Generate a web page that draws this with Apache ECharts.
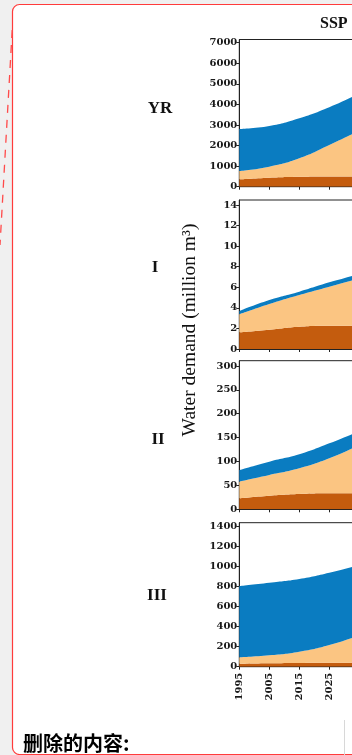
<!DOCTYPE html>
<html><head><meta charset="utf-8">
<script src="https://cdn.jsdelivr.net/npm/echarts@6/dist/echarts.min.js"></script>
<style>html,body{margin:0;padding:0;background:#f0f0f0;}#c{width:352px;height:755px;}</style>
</head><body><div id="c"></div>
<script>
// categories
const years = ['1995', '2005', '2015', '2025', '2035'];
const panelNames = ['YR', 'I', 'II', 'III'];
// stacked bands, bottom to top: dark orange, light orange, blue
const yrDark = [360, 440, 485, 500, 500];
const yrLight = [403, 532, 895, 1527, 2220];
const yrBlue = [2042, 1978, 1945, 1833, 1810];
const iDark = [1.62, 1.88, 2.17, 2.27, 2.27];
const iLight = [1.75, 2.49, 3.08, 3.79, 4.58];
const iBlue = [0.32, 0.39, 0.32, 0.42, 0.45];
const iiDark = [23, 28.5, 32, 33.5, 33.5];
const iiLight = [34.8, 43.3, 53.8, 73.2, 101];
const iiBlue = [24.2, 27.9, 29.2, 31.3, 29];
const iiiDark = [30, 35, 38, 40, 40];
const iiiLight = [64, 79, 112, 177, 274];
const iiiBlue = [713, 726, 727, 723, 703];
// tick labels
const ticksYR = [0, 1000, 2000, 3000, 4000, 5000, 6000, 7000];
const ticksI = [0, 2, 4, 6, 8, 10, 12, 14];
const ticksII = [0, 50, 100, 150, 200, 250, 300];
const ticksIII = [0, 200, 400, 600, 800, 1000, 1200, 1400];
const axisMax = [7156, 14.49, 311, 1440];

const colDark = '#c45c0e', colLight = '#fbc582', colBlue = '#0a7cc1';
const panels = [
  {dark: yrDark, light: yrLight, blue: yrBlue, ticks: ticksYR},
  {dark: iDark, light: iLight, blue: iBlue, ticks: ticksI},
  {dark: iiDark, light: iiLight, blue: iiBlue, ticks: ticksII},
  {dark: iiiDark, light: iiiLight, blue: iiiBlue, ticks: ticksIII}
];
const gridLayout = [
  {top: 39.5, height: 147.2},
  {top: 200, height: 149},
  {top: 360.7, height: 148.6},
  {top: 522.7, height: 144}
];
const numFont = {fontFamily: 'DejaVu Serif', fontWeight: 'bold', fontSize: 10, color: '#1a1a1a'};

const grid = [], xAxis = [], yAxis = [], series = [];
panels.forEach((p, i) => {
  grid.push({left: 239.3, width: 120, top: gridLayout[i].top, height: gridLayout[i].height,
    outerBoundsMode: 'none', containLabel: false,
    show: true, borderColor: '#222', borderWidth: 1, backgroundColor: 'transparent'});
  xAxis.push({type: 'category', gridIndex: i, data: years, boundaryGap: false,
    axisLine: {lineStyle: {color: '#222', width: 1}},
    axisTick: {show: true, inside: false, length: 3, lineStyle: {color: '#222'}},
    axisLabel: Object.assign({show: i === 3, rotate: 90, margin: 6}, numFont),
    splitLine: {show: false}});
  yAxis.push({type: 'value', gridIndex: i, min: 0, max: axisMax[i],
    axisLine: {show: true, lineStyle: {color: '#222', width: 1}},
    axisTick: {show: true, inside: false, length: 3, customValues: p.ticks, lineStyle: {color: '#222'}},
    axisLabel: Object.assign({margin: 2, customValues: p.ticks, formatter: v => String(v)}, numFont),
    splitLine: {show: false}});
  [[p.dark, colDark], [p.light, colLight], [p.blue, colBlue]].forEach(([d, c]) => {
    series.push({type: 'line', xAxisIndex: i, yAxisIndex: i, stack: 'p' + i, data: d,
      smooth: true, symbol: 'none', lineStyle: {width: 0}, areaStyle: {color: c, opacity: 1},
      itemStyle: {color: c}, silent: true});
  });
});

const serif = 'Liberation Serif';
const labelPos = [[160, 109], [155, 268], [158, 440], [157, 596]];
const graphic = [
  {type: 'rect', z: -10, shape: {x: 12.5, y: 4.5, width: 400, height: 750, r: 7},
    style: {fill: '#fff', stroke: '#ff3b3b', lineWidth: 1.2}},
  {type: 'line', z: -5, shape: {x1: 12.2, y1: 30, x2: 0, y2: 245},
    style: {stroke: '#ff4a4a', lineWidth: 1.3, lineDash: [8, 7]}},
  {type: 'line', z: -5, shape: {x1: 344.5, y1: 720, x2: 344.5, y2: 755},
    style: {stroke: '#d8d8d8', lineWidth: 1}},
  {type: 'text', x: 320, y: 24, style: {text: 'SSP', fontFamily: serif, fontWeight: 'bold', fontSize: 16,
    fill: '#111', textAlign: 'left', textVerticalAlign: 'middle'}},
  {type: 'text', x: 190, y: 330, rotation: Math.PI / 2, style: {text: 'Water demand (million m³)',
    fontFamily: serif, fontSize: 19.5, fill: '#111', textAlign: 'center', textVerticalAlign: 'middle'}},
  {type: 'text', x: 23, y: 743, style: {text: '删除的内容:', fontFamily: 'Noto Sans CJK SC',
    fontWeight: 'bold', fontSize: 20, fill: '#000', textAlign: 'left', textVerticalAlign: 'middle'}}
];
panelNames.forEach((n, i) => {
  graphic.push({type: 'text', x: labelPos[i][0], y: labelPos[i][1], style: {text: n, fontFamily: serif,
    fontWeight: 'bold', fontSize: 17, fill: '#111', textAlign: 'center', textVerticalAlign: 'middle'}});
});

const chart = echarts.init(document.getElementById('c'), null, {renderer: 'canvas'});
chart.setOption({animation: false, backgroundColor: 'transparent', grid, xAxis, yAxis, series, graphic});
</script></body></html>
